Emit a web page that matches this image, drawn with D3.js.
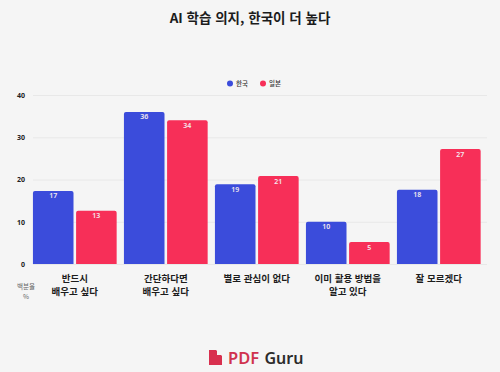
<!DOCTYPE html>
<html lang="ko">
<head>
  <meta charset="UTF-8">
  <title>AI 학습 의지, 한국이 더 높다</title>
  <style>
    html, body { margin: 0; padding: 0; background: #f5f5f5; }
    svg { display: block; font-family: "Noto Sans CJK KR", "Noto Sans", sans-serif; }
  </style>
</head>
<body>
  <svg id="chart" width="500" height="372"></svg>
  <script src="https://d3js.org/d3.v7.min.js"></script>
  <script>
    const categories = [
      ["반드시", "배우고 싶다"],
      ["간단하다면", "배우고 싶다"],
      ["별로 관심이 없다"],
      ["이미 활용 방법을", "알고 있다"],
      ["잘 모르겠다"]
    ];
    const seriesNames = ["한국", "일본"];
    const korea = [17.3, 36, 18.9, 10, 17.6];
    const japan = [12.6, 34, 20.8, 5.2, 27.2];
    const yTicks = [0, 10, 20, 30, 40];
    const colors = ["#3b4cdb", "#f72f58"];

    const svg = d3.select("#chart");

    svg.append("rect").attr("width", 500).attr("height", 372).attr("fill", "#f5f5f5");

    svg.append("text")
      .attr("x", 250).attr("y", 23)
      .attr("text-anchor", "middle")
      .attr("font-size", 13.5).attr("font-weight", 700).attr("fill", "#1c1c1c")
      .text("AI 학습 의지, 한국이 더 높다");

    const y = d3.scaleLinear().domain([0, 40]).range([264, 95]);
    const x0 = d3.scaleBand().domain(d3.range(categories.length)).range([29.3, 484.3]).paddingInner(0.08).paddingOuter(0.04);
    const x1 = d3.scaleBand().domain([0, 1]).range([0, x0.bandwidth()]).paddingInner(0.06);

    // gridlines + y labels
    const yAxis = svg.append("g")
      .attr("transform", "translate(33,0)")
      .call(d3.axisLeft(y).tickValues(yTicks).tickSize(-454).tickPadding(8));
    yAxis.select(".domain").remove();
    yAxis.selectAll(".tick line").attr("stroke", "#e8e8e8");
    yAxis.selectAll(".tick text")
      .attr("font-size", 7).attr("font-weight", 700).attr("fill", "#222")
      .attr("font-family", "'Noto Sans', sans-serif");

    const roundTop = (x, yTop, w, h, r) =>
      `M${x},${yTop + h}V${yTop + r}Q${x},${yTop} ${x + r},${yTop}H${x + w - r}Q${x + w},${yTop} ${x + w},${yTop + r}V${yTop + h}Z`;

    [korea, japan].forEach((values, s) => {
      const g = svg.append("g");
      g.selectAll("path")
        .data(values)
        .join("path")
        .attr("fill", colors[s])
        .attr("d", (d, i) => roundTop(x0(i) + x1(s), y(d), x1.bandwidth(), y(0) - y(d), 2));
      g.selectAll("text")
        .data(values)
        .join("text")
        .attr("x", (d, i) => x0(i) + x1(s) + x1.bandwidth() / 2)
        .attr("y", d => y(d) + 7.5)
        .attr("text-anchor", "middle")
        .attr("font-size", 7).attr("font-weight", 600).attr("fill", "#f3e9ee")
        .attr("font-family", "'Noto Sans', sans-serif")
        .text(d => Math.round(d));
    });

    // category labels
    const catLabels = svg.append("g");
    categories.forEach((lines, i) => {
      const text = catLabels.append("text")
        .attr("text-anchor", "middle")
        .attr("font-size", 9.5).attr("font-weight", 600).attr("fill", "#1c1c1c");
      lines.forEach((line, k) => {
        text.append("tspan")
          .attr("x", x0(i) + x0.bandwidth() / 2)
          .attr("y", 282 + k * 13)
          .text(line);
      });
    });

    // y axis unit
    ["백분율", "%"].forEach((line, k) => {
      svg.append("text")
        .attr("x", 26).attr("y", 289 + k * 10)
        .attr("text-anchor", "middle")
        .attr("font-size", 6.5).attr("fill", "#666")
        .text(line);
    });

    // legend
    const legendX = [230, 263];
    seriesNames.forEach((name, i) => {
      svg.append("circle").attr("cx", legendX[i]).attr("cy", 83.5).attr("r", 3).attr("fill", colors[i]);
      svg.append("text")
        .attr("x", legendX[i] + 6).attr("y", 86)
        .attr("font-size", 6.5).attr("font-weight", 500).attr("fill", "#333")
        .text(name);
    });

    // logo
    const logo = svg.append("g");
    logo.append("path")
      .attr("d", "M209,350H216L222,356V365H209Z")
      .attr("fill", "#d8304f");
    logo.append("path")
      .attr("d", "M217,350V355H222Z")
      .attr("fill", "#f5f5f5");
    logo.append("text")
      .attr("x", 228).attr("y", 364)
      .attr("font-size", 16.5).attr("font-weight", 600).attr("fill", "#d0324f")
      .attr("font-family", "'Noto Sans', sans-serif")
      .text("PDF");
    logo.append("text")
      .attr("x", 264.5).attr("y", 364)
      .attr("font-size", 16).attr("font-weight", 600).attr("fill", "#2b2b2b")
      .attr("font-family", "'Noto Sans', sans-serif")
      .text("Guru");
  </script>
</body>
</html>
